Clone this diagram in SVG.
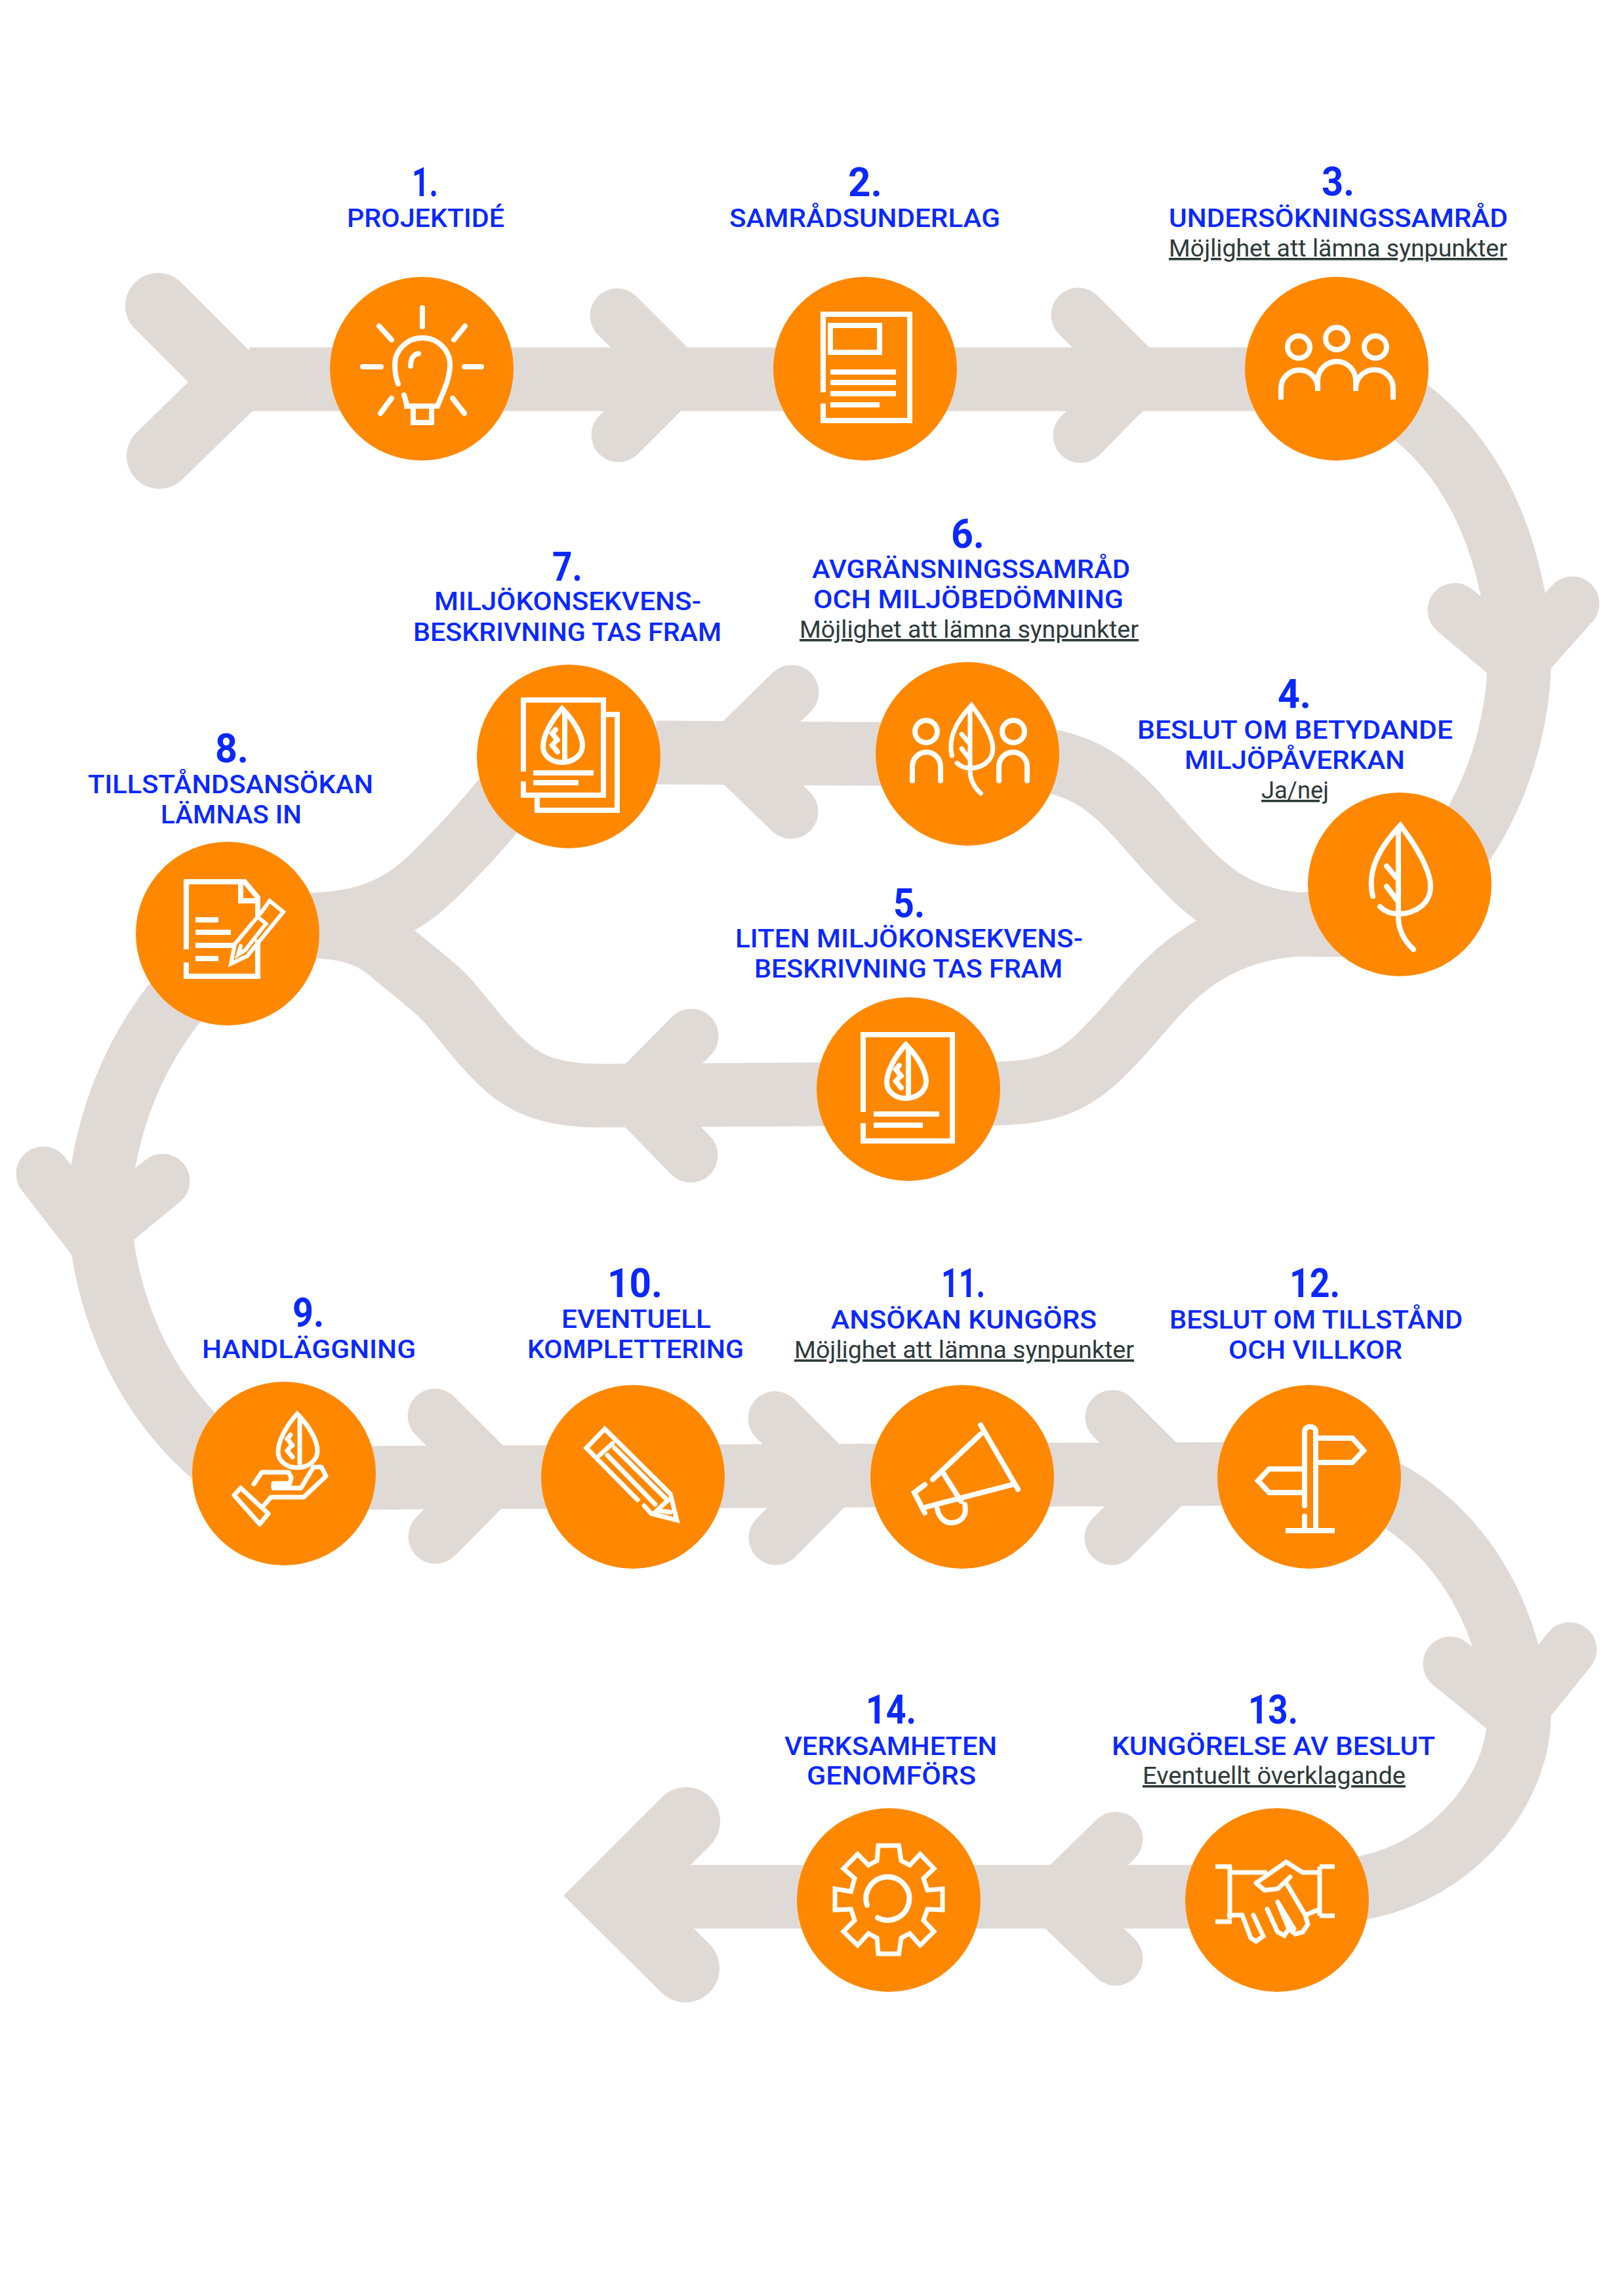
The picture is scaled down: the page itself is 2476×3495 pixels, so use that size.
<svg xmlns="http://www.w3.org/2000/svg" xmlns:xlink="http://www.w3.org/1999/xlink" width="2476" height="3495" viewBox="0 0 2476 3495">
<style>
text{font-family:Roboto,"Liberation Sans",sans-serif}
.num{font-size:62px;font-weight:700;fill:#0a28ff}
.lab{font-size:38px;font-weight:500;fill:#0a28ff;transform:translateY(1px)}
.sub{font-size:36px;font-weight:400;fill:#2e3a3a;text-decoration:underline}
.b{fill:none;stroke:#e0dad6;stroke-width:97}
.c{fill:none;stroke:#e0dad6;stroke-width:83;stroke-linecap:round;stroke-linejoin:miter;stroke-miterlimit:10}
.o{fill:#ff8800}
.i{fill:none;stroke:#fff;stroke-width:8;stroke-linecap:round;stroke-linejoin:miter;stroke-miterlimit:8}
.s{stroke-linecap:butt}
</style>
<defs>
<g id="leafBig"><path d="M-39,108C-48,70-30,35 3,0C30,35 49,70 49,93C49,120 25,135 0,135C-12,135-22,130-28,124M0,6V140C0,160 8,175 23,189M-18,62L-3,80M-18,93L-3,113"/></g>
<g id="leafSmall"><path d="M-2,0C-20,20-31,42-31,58C-31,72-18,82-2,82C14,82 29,72 29,56C29,42 18,20-2,0ZM2,8V76M-12,32L-17,38L-9,48M-12,50L-17,56L-9,66"/></g>
</defs>
<rect width="2476" height="3495" fill="#fff"/>
<g id="connectors">
<path class="b" d="M380,578H2038"/>
<path class="c" style="stroke-width:100" d="M241,466L358,583L243,695"/>
<path class="c" d="M941,481L1033,573L943,663"/>
<path class="c" d="M1644,480L1737,573L1647,664"/>
<path class="b" d="M2060,575C2180,625 2285,735 2314,950C2327,1070 2290,1190 2240,1270L2190,1350"/>
<path class="c" d="M2218,930L2315,1012L2397,920"/>
<path class="b" d="M1560,1155C1680,1160 1720,1230 1785,1300C1840,1360 1890,1410 2010,1410H2130"/>
<path class="b" d="M1500,1667C1620,1668 1650,1640 1710,1575C1770,1510 1830,1408 2010,1408H2130"/>
<path class="b" d="M1000,1147L1475,1150"/>
<path class="c" d="M1207,1055L1113,1147L1206,1237"/>
<path class="b" d="M430,1411C540,1411 600,1396 663,1333C700,1296 730,1265 770,1215L830,1140"/>
<path class="b" d="M430,1411C510,1411 555,1415 595,1450C640,1488 665,1505 685,1528C720,1570 735,1590 744,1598C790,1650 830,1670 916,1670L1400,1667"/>
<path class="c" d="M1054,1579L964,1670L1053,1761"/>
<path class="b" d="M320,1470C225,1560 165,1680 150,1830C155,1980 215,2130 340,2230"/>
<path class="c" d="M66,1789L142,1887L248,1800"/>
<path class="b" d="M433,2253L1996,2246"/>
<path class="c" d="M663,2158L755,2250L664,2342"/>
<path class="c" d="M1182,2162L1273,2253L1183,2344"/>
<path class="c" d="M1696,2160L1787,2251L1695,2344"/>
<path class="b" d="M2060,2250C2200,2300 2300,2430 2316,2620C2312,2740 2200,2872 2040,2882"/>
<path class="c" d="M2211,2536L2310,2617L2393,2514"/>
<path class="b" d="M960,2891H1950"/>
<path class="c" d="M1701,2803L1607,2895L1701,2985"/>
<path class="c" style="stroke-width:104" d="M1046,2776L933,2889L1045,3000"/>
</g>
<g id="n1">
<circle class="o" cx="643" cy="562" r="140"/>
<path class="i" d="M644,469V498M709,497L692,518M578,497L597,518M553,559H581M708,559H734M597,607L580,630M690,607L708,630M626,558C626,548 630,540 638,539"/>
<path class="i" d="M607,585C603,575 602,565 602,556A42,41 0 0 1 686,556C686,580 672,605 667,619H621L616,602"/>
<path class="i s" d="M616,619H670M630,621V644H658V621"/>
<text class="num" x="628" y="299" textLength="40" lengthAdjust="spacingAndGlyphs">1.</text>
<text class="lab" x="529" y="345" textLength="240" lengthAdjust="spacingAndGlyphs">PROJEKTIDÉ</text>
</g>
<g id="n2">
<circle class="o" cx="1319" cy="562" r="140"/>
<path class="i s" d="M1255,598V479H1387V641H1255V615"/>
<path class="i s" d="M1266,496H1341V537H1266ZM1266,567H1366M1266,583H1366M1266,600H1366M1266,617H1341"/>
<text class="num" x="1293" y="299" textLength="52" lengthAdjust="spacingAndGlyphs">2.</text>
<text class="lab" x="1112" y="345" textLength="413" lengthAdjust="spacingAndGlyphs">SAMRÅDSUNDERLAG</text>
</g>
<g id="n3">
<circle class="o" cx="2038" cy="562" r="140"/>
<circle class="i" cx="1980" cy="529" r="17"/><circle class="i" cx="2038" cy="516" r="17"/><circle class="i" cx="2097" cy="529" r="17"/>
<path class="i s" d="M1953,609V592A28,28 0 0 1 2009,592V596M2009,596V580A29,29 0 0 1 2067,580V596M2067,596V592A28,28 0 0 1 2124,592V609"/>
<text class="num" x="2015" y="298" textLength="50" lengthAdjust="spacingAndGlyphs">3.</text>
<text class="lab" x="1782" y="345" textLength="517" lengthAdjust="spacingAndGlyphs">UNDERSÖKNINGSSAMRÅD</text>
<text class="sub" x="1782" y="391" textLength="516" lengthAdjust="spacingAndGlyphs">Möjlighet att lämna synpunkter</text>
</g>
<g id="n4">
<circle class="o" cx="2134" cy="1348" r="140"/>
<use xlink:href="#leafBig" href="#leafBig" class="i" x="2132" y="1258"/>
<text class="num" x="1948" y="1079" textLength="51" lengthAdjust="spacingAndGlyphs">4.</text>
<text class="lab" x="1734" y="1125" textLength="481" lengthAdjust="spacingAndGlyphs">BESLUT OM BETYDANDE</text>
<text class="lab" x="1806" y="1171" textLength="336" lengthAdjust="spacingAndGlyphs">MILJÖPÅVERKAN</text>
<text class="sub" x="1923" y="1217" textLength="103" lengthAdjust="spacingAndGlyphs">Ja/nej</text>
</g>
<g id="n5">
<circle class="o" cx="1385" cy="1660" r="140"/>
<path class="i s" d="M1316,1695V1577H1452V1739H1316V1712"/>
<path class="i s" d="M1332,1698H1432M1332,1715H1407"/>
<use xlink:href="#leafSmall" href="#leafSmall" class="i" x="1383" y="1592"/>
<text class="num" x="1362" y="1398" textLength="48" lengthAdjust="spacingAndGlyphs">5.</text>
<text class="lab" x="1121" y="1443" textLength="530" lengthAdjust="spacingAndGlyphs">LITEN MILJÖKONSEKVENS-</text>
<text class="lab" x="1150" y="1489" textLength="470" lengthAdjust="spacingAndGlyphs">BESKRIVNING TAS FRAM</text>
</g>
<g id="n6">
<circle class="o" cx="1475" cy="1149" r="140"/>
<circle class="i" cx="1412" cy="1115" r="17"/><circle class="i" cx="1545" cy="1115" r="17"/>
<path class="i" d="M1391,1190V1168A21,21 0 0 1 1434,1168V1190M1523,1190V1168A21,21 0 0 1 1566,1168V1190"/>
<use xlink:href="#leafBig" href="#leafBig" class="i" style="stroke-width:10" transform="translate(1479,1075) scale(.71)"/>
<text class="num" x="1450" y="835" textLength="51" lengthAdjust="spacingAndGlyphs">6.</text>
<text class="lab" x="1238" y="880" textLength="485" lengthAdjust="spacingAndGlyphs">AVGRÄNSNINGSSAMRÅD</text>
<text class="lab" x="1240" y="926" textLength="473" lengthAdjust="spacingAndGlyphs">OCH MILJÖBEDÖMNING</text>
<text class="sub" x="1219" y="972" textLength="517" lengthAdjust="spacingAndGlyphs">Möjlighet att lämna synpunkter</text>
</g>
<g id="n7">
<circle class="o" cx="867" cy="1153" r="140"/>
<path class="i s" d="M798,1176V1067H920V1212H798V1191M924,1089H941V1235H819V1216"/>
<path class="i s" d="M813,1178H905M813,1193H882"/>
<use xlink:href="#leafSmall" href="#leafSmall" class="i" x="859" y="1080"/>
<text class="num" x="842" y="885" textLength="46" lengthAdjust="spacingAndGlyphs">7.</text>
<text class="lab" x="662" y="929" textLength="407" lengthAdjust="spacingAndGlyphs">MILJÖKONSEKVENS-</text>
<text class="lab" x="630" y="976" textLength="470" lengthAdjust="spacingAndGlyphs">BESKRIVNING TAS FRAM</text>
</g>
<g id="n8">
<circle class="o" cx="347" cy="1423" r="140"/>
<path class="i s" d="M284,1447V1344H373L393,1368V1396M393,1432V1488H284V1467M367,1347V1373H395"/>
<path class="i s" d="M298,1402H333M298,1421H352M298,1441H358M298,1461H333"/>
<path class="i" style="stroke-width:6" d="M411,1373L432,1390L400,1429L377,1457L352,1469L358,1439L399,1390ZM397,1401L406,1408M403,1411L374,1448L363,1455L367,1442"/>
<text class="num" x="328" y="1162" textLength="51" lengthAdjust="spacingAndGlyphs">8.</text>
<text class="lab" x="134" y="1208" textLength="435" lengthAdjust="spacingAndGlyphs">TILLSTÅNDSANSÖKAN</text>
<text class="lab" x="245" y="1254" textLength="215" lengthAdjust="spacingAndGlyphs">LÄMNAS IN</text>
</g>
<g id="n9">
<circle class="o" cx="433" cy="2246" r="140"/>
<use xlink:href="#leafSmall" href="#leafSmall" class="i" style="stroke-width:7" x="455" y="2155"/>
<path class="i" style="stroke-width:7;stroke-linejoin:round" d="M357,2279L367,2268L409,2307L396,2323ZM402,2295L413,2282H463L497,2250L490,2236H478L459,2268H417V2261H442L444,2252L440,2244H399L387,2262"/>
<text class="num" x="446" y="2022" textLength="48" lengthAdjust="spacingAndGlyphs">9.</text>
<text class="lab" x="308" y="2069" textLength="326" lengthAdjust="spacingAndGlyphs">HANDLÄGGNING</text>
</g>
<g id="n10">
<circle class="o" cx="965" cy="2251" r="140"/>
<path class="i" style="stroke-width:7" d="M972,2286L894,2207L922,2178L1022,2277L1032,2317L993,2307L982,2295M934,2200L914,2218M937,2207L1018,2287M926,2218L999,2293M1018,2287L1002,2302L1022,2305"/>
<text class="num" x="926" y="1977" textLength="84" lengthAdjust="spacingAndGlyphs">10.</text>
<text class="lab" x="856" y="2023" textLength="228" lengthAdjust="spacingAndGlyphs">EVENTUELL</text>
<text class="lab" x="804" y="2069" textLength="330" lengthAdjust="spacingAndGlyphs">KOMPLETTERING</text>
</g>
<g id="n11">
<circle class="o" cx="1467" cy="2251" r="140"/>
<path class="i" d="M1495,2172L1552,2270M1495,2186L1422,2255M1547,2262L1412,2297M1436,2242L1465,2288M1410,2263L1394,2275L1410,2306M1429,2300C1432,2315 1442,2321 1450,2321C1465,2321 1475,2310 1471,2293"/>
<text class="num" x="1435" y="1977" textLength="67" lengthAdjust="spacingAndGlyphs">11.</text>
<text class="lab" x="1267" y="2024" textLength="405" lengthAdjust="spacingAndGlyphs">ANSÖKAN KUNGÖRS</text>
<text class="sub" x="1211" y="2070" textLength="518" lengthAdjust="spacingAndGlyphs">Möjlighet att lämna synpunkter</text>
</g>
<g id="n12">
<circle class="o" cx="1996" cy="2251" r="140"/>
<path class="i" d="M1989,2295V2182C1989,2172 2006,2172 2006,2182V2333M1989,2311V2333"/>
<path class="i s" d="M2008,2192H2062L2079,2211L2062,2229H2008M1987,2239H1935L1918,2257L1935,2275H1987M1960,2333H2035"/>
<text class="num" x="1966" y="1977" textLength="77" lengthAdjust="spacingAndGlyphs">12.</text>
<text class="lab" x="1783" y="2024" textLength="447" lengthAdjust="spacingAndGlyphs">BESLUT OM TILLSTÅND</text>
<text class="lab" x="1873" y="2070" textLength="265" lengthAdjust="spacingAndGlyphs">OCH VILLKOR</text>
</g>
<g id="n13">
<circle class="o" cx="1947" cy="2896" r="140"/>
<path class="i s" style="stroke-width:7" d="M1853,2845H1878M1875,2845V2925M1853,2929H1878M2012,2845H2035M2012,2845V2920M2012,2920H2035M1875,2854H1932M1986,2854H2012"/>
<path class="i" style="stroke-width:7" d="M1915,2870L1961,2838L1986,2854M1915,2870L1928,2881L1948,2879L1967,2861M1961,2870L1990,2919L2012,2910M1874,2919H1894L1907,2954L1915,2959L1926,2951L1911,2919M1932,2910L1948,2945L1958,2950L1965,2940L1948,2899M1965,2940L1975,2948L1986,2945L1994,2933L1990,2919M1948,2899L1973,2940"/>
<text class="num" x="1903" y="2627" textLength="76" lengthAdjust="spacingAndGlyphs">13.</text>
<text class="lab" x="1695" y="2674" textLength="493" lengthAdjust="spacingAndGlyphs">KUNGÖRELSE AV BESLUT</text>
<text class="sub" x="1742" y="2719" textLength="401" lengthAdjust="spacingAndGlyphs">Eventuellt överklagande</text>
</g>
<g id="n14">
<circle class="o" cx="1355" cy="2896" r="140"/>
<path class="i" style="stroke-width:7" d="M1339,2813H1370.5L1374,2836L1387,2843L1403,2826L1424,2848L1408,2863L1414,2881L1437,2879V2911L1414,2910L1408,2927L1424,2944L1403,2965L1387,2947L1374,2954L1370.5,2978H1339L1337,2954L1324,2947L1307.5,2965L1286,2944L1303,2927L1297.5,2910L1273,2911V2879L1297.5,2883L1303,2863L1286,2848L1307.5,2826L1324,2843L1337,2836Z"/>
<path class="i" d="M1322,2904A33,33 0 1 1 1338,2923"/>
<text class="num" x="1320" y="2627" textLength="77" lengthAdjust="spacingAndGlyphs">14.</text>
<text class="lab" x="1196" y="2674" textLength="324" lengthAdjust="spacingAndGlyphs">VERKSAMHETEN</text>
<text class="lab" x="1230" y="2719" textLength="258" lengthAdjust="spacingAndGlyphs">GENOMFÖRS</text>
</g>
</svg>
